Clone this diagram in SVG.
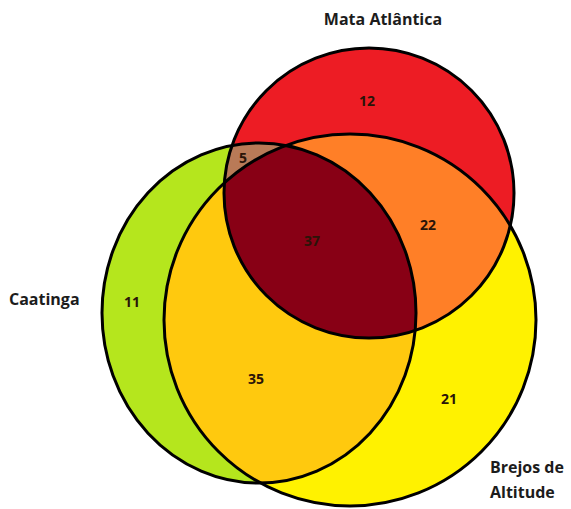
<svg xmlns="http://www.w3.org/2000/svg" width="571" height="509" viewBox="0 0 571 509">
  <style>
    .outline { fill: none; stroke: #000; stroke-width: 3; }
    .label { font-family: "Open Sans", "Liberation Sans", sans-serif; font-weight: bold; font-size: 16px; fill: #1c1c1c; }
    .count { font-family: "Open Sans", "Liberation Sans", sans-serif; font-weight: bold; font-size: 14px; fill: #2a1408; text-anchor: middle; }
  </style>
  <defs>
    <ellipse id="shape-caatinga" cx="259" cy="313" rx="157" ry="170"/>
    <circle id="shape-brejos" cx="350" cy="320" r="186"/>
    <circle id="shape-mata" cx="369" cy="193" r="145"/>
    <clipPath id="clip-caatinga"><use href="#shape-caatinga"/></clipPath>
    <clipPath id="clip-brejos"><use href="#shape-brejos"/></clipPath>
  </defs>

  <rect width="571" height="509" fill="#fff"/>

  <!-- single-set fills -->
  <g id="caatinga">
    <use href="#shape-caatinga" fill="#b5e61d"/>
  </g>
  <g id="brejos-de-altitude">
    <use href="#shape-brejos" fill="#fff200"/>
  </g>
  <g id="mata-atlantica">
    <use href="#shape-mata" fill="#ed1c24"/>
  </g>

  <!-- overlap fills -->
  <g id="overlaps">
    <use href="#shape-brejos" fill="#ffc90e" clip-path="url(#clip-caatinga)"/>
    <use href="#shape-mata" fill="#ff7f27" clip-path="url(#clip-brejos)"/>
    <use href="#shape-mata" fill="#b97a57" clip-path="url(#clip-caatinga)"/>
    <g clip-path="url(#clip-brejos)">
      <use href="#shape-mata" fill="#880015" clip-path="url(#clip-caatinga)"/>
    </g>
  </g>

  <!-- set outlines -->
  <g id="outlines">
    <use href="#shape-caatinga" class="outline"/>
    <use href="#shape-brejos" class="outline"/>
    <use href="#shape-mata" class="outline"/>
  </g>

  <!-- set names -->
  <g id="labels">
    <text class="label" x="383" y="25" text-anchor="middle">Mata Atlântica</text>
    <text class="label" x="9" y="305">Caatinga</text>
    <text class="label" x="490" y="473">Brejos de</text>
    <text class="label" x="490" y="498">Altitude</text>
  </g>

  <!-- region counts -->
  <g id="counts">
    <text class="count" x="367" y="106">12</text>
    <text class="count" x="243" y="163">5</text>
    <text class="count" x="312" y="246">37</text>
    <text class="count" x="428" y="230">22</text>
    <text class="count" x="132" y="307">11</text>
    <text class="count" x="256" y="384">35</text>
    <text class="count" x="449" y="404">21</text>
  </g>
</svg>
